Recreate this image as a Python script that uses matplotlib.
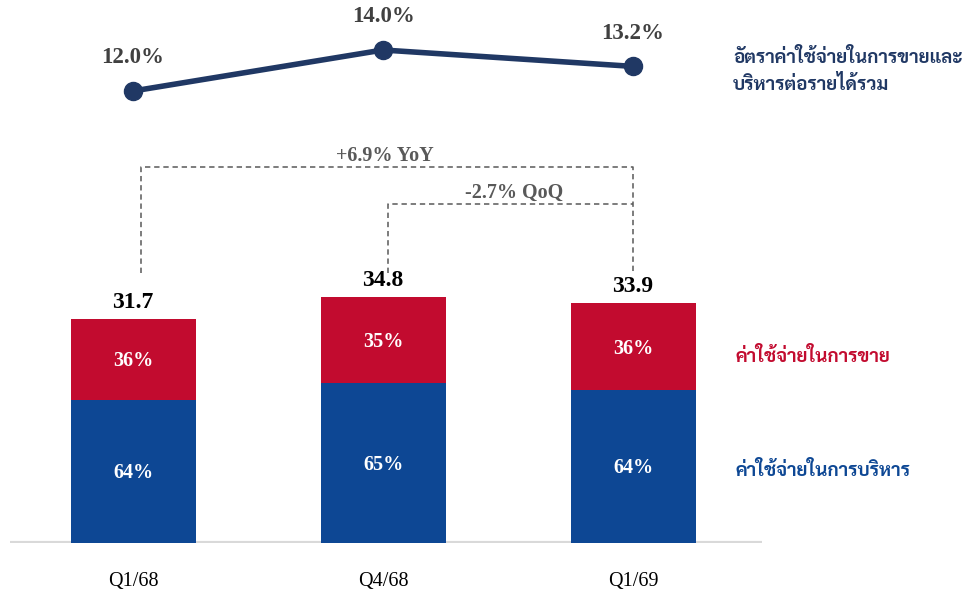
import matplotlib
matplotlib.use('Agg')
import matplotlib.pyplot as plt
import numpy as np

# data
quarters = ['Q1/68', 'Q4/68', 'Q1/69']
totals = [31.7, 34.8, 33.9]
admin_pct = [64, 65, 64]
selling_pct = [36, 35, 36]
ratio_pct = [12.0, 14.0, 13.2]
yoy_label = '+6.9% YoY'
qoq_label = '-2.7% QoQ'
lbl_ratio = 'อัตราค่าใช้จ่ายในการขายและ\nบริหารต่อรายได้รวม'
lbl_selling = 'ค่าใช้จ่ายในการขาย'
lbl_admin = 'ค่าใช้จ่ายในการบริหาร'

red = '#C20B2F'
blue = '#0D4794'
navy = '#203864'
gray = '#595959'
serif = ['Liberation Serif', 'DejaVu Serif']
thai = ['Sarabun', 'DejaVu Sans']

W, H = 969, 597
fig = plt.figure(figsize=(W / 100, H / 100), dpi=100)

# stacked bars
ax = fig.add_axes([10 / W, 54 / H, 752 / W, 403 / H])
x = np.arange(len(quarters))
tot = np.array(totals)
admin = tot * np.array(admin_pct) / 100
sell = tot * np.array(selling_pct) / 100
ax.bar(x, admin, width=0.5, color=blue, zorder=3)
ax.bar(x, sell, width=0.5, bottom=admin, color=red, zorder=3)
ax.axhline(0, color='#d9d9d9', lw=3, zorder=2)
for i in range(len(x)):
    ax.annotate(f'{admin_pct[i]}%', (x[i], admin[i] / 2), xytext=(0, -1.5), textcoords='offset points',
                ha='center', va='center', color='white', fontsize=14.5, weight='bold',
                family=serif, zorder=4)
    ax.annotate(f'{selling_pct[i]}%', (x[i], admin[i] + sell[i] / 2), xytext=(0, -1.5),
                textcoords='offset points', ha='center', va='center', color='white',
                fontsize=14.5, weight='bold', family=serif, zorder=4)
    ax.annotate(f'{totals[i]:.1f}', (x[i], totals[i]), xytext=(0, 12), textcoords='offset points',
                ha='center', va='center', fontsize=17, weight='bold', family=serif, color='black')
ax.set_xlim(-0.492, 2.516)
ax.set_ylim(0, 57)
ax.set_xticks(x)
ax.set_xticklabels(quarters, family=serif, fontsize=14.5)
ax.tick_params(axis='x', length=0, pad=21)
ax.set_yticks([])
for s in ax.spines.values():
    s.set_visible(False)

# YoY / QoQ brackets
dash = dict(color=gray, lw=1.1, ls=(0, (3.5, 2.5)))
y_low, y_yoy, y_qoq = 38.2, 53.2, 47.9
ax.plot([0.032, 0.032, 2.0, 2.0], [y_low, y_yoy, y_yoy, y_low], **dash)
ax.plot([1.02, 1.02, 2.0], [y_low, y_qoq, y_qoq], **dash)
ax.text(1.008, y_yoy + 1.6, yoy_label, ha='center', va='center', color=gray,
        fontsize=14.5, weight='bold', family=serif)
ax.text(1.524, y_qoq + 1.6, qoq_label, ha='center', va='center', color=gray,
        fontsize=14.5, weight='bold', family=serif)

# ratio line
ax2 = fig.add_axes([10 / W, (H - 130) / H, 752 / W, 130 / H])
ax2.plot(x, ratio_pct, color=navy, lw=4, marker='o', markersize=13, solid_capstyle='round')
for i in range(len(x)):
    ax2.annotate(f'{ratio_pct[i]:.1f}%', (x[i], ratio_pct[i]), xytext=(0, 24),
                 textcoords='offset points', ha='center', va='center', fontsize=16.5,
                 weight='bold', family=serif, color='#404040')
ax2.set_xlim(-0.492, 2.516)
ax2.set_ylim(12 - 39 / 20.5, 12 + 91 / 20.5)
ax2.axis('off')

# side labels
fig.text(733 / W, 1 - 71 / H, lbl_ratio, ha='left', va='center', color=navy,
         fontsize=13.5, weight='bold', family=thai, linespacing=1.5)
fig.text(735 / W, 1 - 357 / H, lbl_selling, ha='left', va='center', color=red,
         fontsize=13.5, weight='bold', family=thai)
fig.text(735 / W, 1 - 470 / H, lbl_admin, ha='left', va='center', color=blue,
         fontsize=13.5, weight='bold', family=thai)

fig.savefig('out.png', dpi=100)
